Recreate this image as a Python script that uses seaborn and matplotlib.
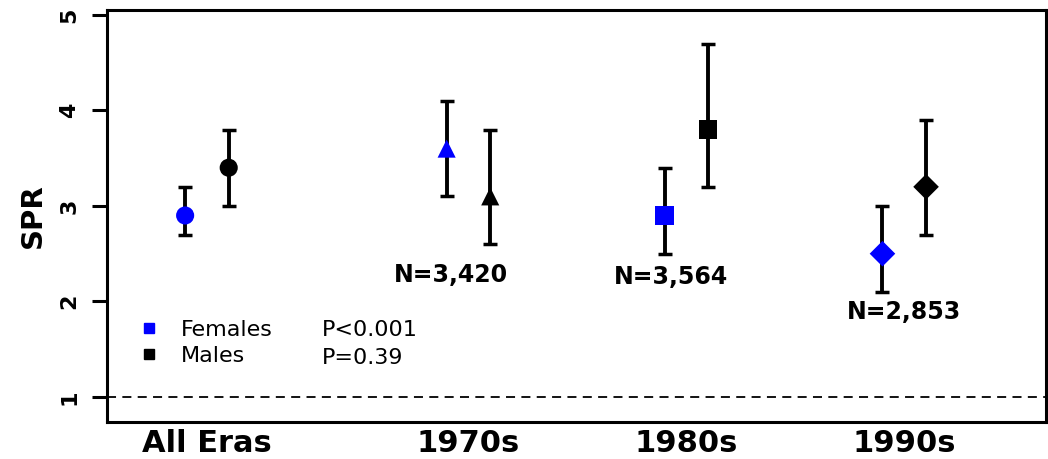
import numpy as np
import pandas as pd
import matplotlib
matplotlib.use('Agg')
import matplotlib.pyplot as plt
import seaborn as sns
from matplotlib.lines import Line2D

# values
eras = ['All Eras', '1970s', '1980s', '1990s']
female_spr = [2.9, 3.6, 2.9, 2.5]
female_lo = [2.7, 3.1, 2.5, 2.1]
female_hi = [3.2, 4.1, 3.4, 3.0]
male_spr = [3.4, 3.1, 3.8, 3.2]
male_lo = [3.0, 2.6, 3.2, 2.7]
male_hi = [3.8, 3.8, 4.7, 3.9]
n_labels = ['', 'N=3,420', 'N=3,564', 'N=2,853']
p_labels = ['P<0.001', 'P=0.39']

sns.set_theme(style='white')
# the original is drawn wide, so the broader DejaVu glyphs fit it better
plt.rcParams['font.family'] = ['DejaVu Sans']
for k in ['text.color', 'axes.labelcolor', 'xtick.color', 'ytick.color']:
    plt.rcParams[k] = 'black'

rows = []
for i, era in enumerate(eras):
    rows.append({'era': era, 'sex': 'Females', 'spr': female_spr[i], 'lo': female_lo[i], 'hi': female_hi[i]})
    rows.append({'era': era, 'sex': 'Males', 'spr': male_spr[i], 'lo': male_lo[i], 'hi': male_hi[i]})
df = pd.DataFrame(rows)

# era centres are not evenly spaced in the original (gap after "All Eras")
centre = {'All Eras': 1.0, '1970s': 2.2, '1980s': 3.2, '1990s': 4.2}
shift = {'Females': -0.1, 'Males': 0.1}
df['xpos'] = df['era'].map(centre) + df['sex'].map(shift)

fig = plt.figure(figsize=(10.48, 4.59), dpi=100)
ax = fig.add_axes([0.102, 0.081, 0.896, 0.897])

ax.axhline(1, color='black', ls=(0, (5, 3.5)), lw=1.3, zorder=1)

ax.errorbar(df['xpos'], df['spr'], yerr=[df['spr'] - df['lo'], df['hi'] - df['spr']],
            fmt='none', ecolor='black', elinewidth=2.8, capsize=5, capthick=2.5, zorder=2)

sns.scatterplot(data=df, x='xpos', y='spr', hue='sex', style='era',
                palette={'Females': '#0000FF', 'Males': 'black'},
                markers={'All Eras': 'o', '1970s': '^', '1980s': 's', '1990s': 'D'},
                s=170, linewidth=0, legend=False, zorder=3, ax=ax)

# N annotations
n_pos = {'1970s': (2.12, 2.28), '1980s': (3.13, 2.26), '1990s': (4.2, 1.89)}
for era, lab in zip(eras, n_labels):
    if lab:
        x, y = n_pos[era]
        ax.text(x, y, lab, ha='center', va='center', fontsize=17, fontweight='bold')

handles = [Line2D([], [], marker='s', ls='none', color='#0000FF', markersize=7),
           Line2D([], [], marker='s', ls='none', color='black', markersize=7)]
leg = ax.legend(handles, ['Females', 'Males'], loc='upper left', bbox_to_anchor=(0.0, 0.297),
                frameon=False, fontsize=16, handletextpad=0.45, labelspacing=0.3)
for i, p in enumerate(p_labels):
    ax.text(0.229, 0.222 - i * 0.066, p, transform=ax.transAxes, ha='left', va='center', fontsize=16)

ax.set_xlim(0.541, 4.85)
ax.set_ylim(0.74, 5.05)
ax.set_xticks([centre[e] for e in eras])
ax.set_xticklabels(eras, fontsize=22, fontweight='bold')
ax.set_yticks([1, 2, 3, 4, 5])
ax.set_yticklabels(['1', '2', '3', '4', '5'], fontsize=16, fontweight='bold', rotation=90, va='center')
ax.tick_params(axis='x', length=0, pad=5)
ax.tick_params(axis='y', left=True, length=11, width=2.2, pad=9)
ax.set_xlabel('')
ax.set_ylabel('SPR', fontsize=21, fontweight='bold', labelpad=9)
for s in ax.spines.values():
    s.set_color('black')
    s.set_linewidth(2.2)

fig.savefig('out.png', dpi=100)
